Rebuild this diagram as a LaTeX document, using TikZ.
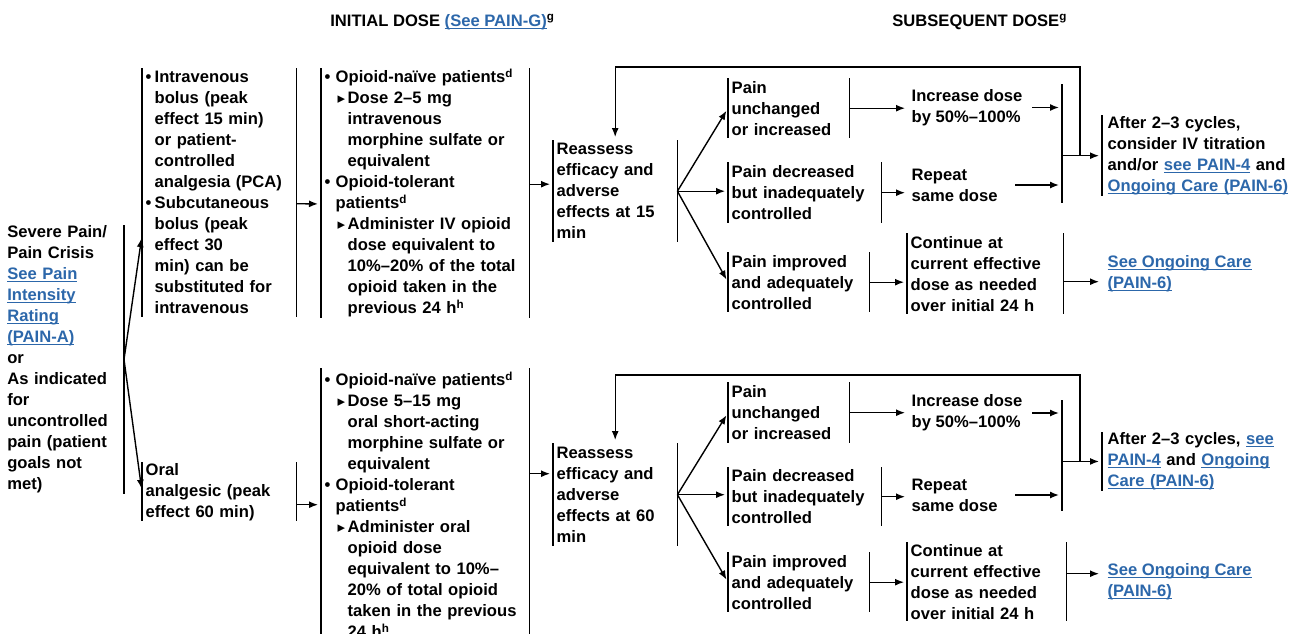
\documentclass[tikz,border=0pt]{standalone}
\usepackage{fontspec}
\setmainfont{Liberation Sans}
\newfontfamily\symfont{DejaVu Sans}
\usetikzlibrary{arrows.meta,calc}

\definecolor{lnkblue}{RGB}{44,103,170}
\newsavebox{\lnkbox}
\newcommand{\lnk}[1]{\leavevmode\sbox{\lnkbox}{\color{lnkblue}#1}%
  {\color{lnkblue}\rlap{\rule[-1.3pt]{\wd\lnkbox}{0.55pt}}}\usebox{\lnkbox}}
\newcommand{\bulit}[1]{\makebox[#1][l]{\textbullet}}
\newcommand{\subtri}{\hspace*{6.5pt}\makebox[5pt][l]{\symfont\fontsize{7.5}{7.5}\selectfont ▸}}
\newcommand{\subind}{\hspace*{11.5pt}}

\begin{document}
\begin{tikzpicture}[x=0.5pt,y=-0.5pt,line width=0.7pt,
  >={Latex[length=4.5pt,width=3.5pt]},
  every node/.style={font=\fontsize{8.3}{10.5}\selectfont\bfseries},
  txt/.style={align=left,inner xsep=1.5pt,inner ysep=0pt,anchor=north west},
  arr/.style={->,shorten >=1.5pt}]

\useasboundingbox (0,0) rectangle (1294,633);

% headings
\node[anchor=west] (hinit) at (323,22) {INITIAL DOSE \lnk{(See PAIN-G)}\textsuperscript{g}};
\node[anchor=west] (hsub) at (885,22) {SUBSEQUENT DOSE\textsuperscript{g}};

% start
\node[txt,anchor=north east,inner xsep=1pt,text width=57pt,minimum height=133pt] (pain) at (124,225)
{Severe Pain/\\ Pain Crisis\\ \lnk{See Pain}\\ \lnk{Intensity}\\ \lnk{Rating}\\ \lnk{(PAIN-A)}\\ or\\
As indicated\\ for\\ uncontrolled\\ pain (patient\\ goals not\\ met)};

% route
\node[txt,text width=73.5pt,minimum height=124pt] (iv) at (142,68)
{\bulit{4.5pt}Intravenous\\ \hspace*{4.5pt}bolus (peak\\ \hspace*{4.5pt}effect 15 min)\\
\hspace*{4.5pt}or patient-\\ \hspace*{4.5pt}controlled\\ \hspace*{4.5pt}analgesia (PCA)\\
\bulit{4.5pt}Subcutaneous\\ \hspace*{4.5pt}bolus (peak\\ \hspace*{4.5pt}effect 30\\
\hspace*{4.5pt}min) can be\\ \hspace*{4.5pt}substituted for\\ \hspace*{4.5pt}intravenous};
\node[txt,text width=73.5pt,minimum height=29pt] (oral) at (142,462)
{Oral\\ analgesic (peak\\ effect 60 min)};

% initial dose
\node[txt,text width=100.5pt,minimum height=124pt] (ivd) at (321,68)
{\bulit{5.5pt}Opioid-naïve patients\textsuperscript{d}\\
\subtri Dose 2–5 mg\\
\subind intravenous\\
\subind morphine sulfate or\\
\subind equivalent\\
\bulit{5.5pt}Opioid-tolerant\\
\hspace*{5.5pt}patients\textsuperscript{d}\\
\subtri Administer IV opioid\\
\subind dose equivalent to\\
\subind 10\%–20\% of the total\\
\subind opioid taken in the\\
\subind previous 24 h\textsuperscript{h}};
\node[txt,text width=100.5pt,minimum height=136pt] (orald) at (321,368)
{\bulit{5.5pt}Opioid-naïve patients\textsuperscript{d}\\
\subtri Dose 5–15 mg\\
\subind oral short-acting\\
\subind morphine sulfate or\\
\subind equivalent\\
\bulit{5.5pt}Opioid-tolerant\\
\hspace*{5.5pt}patients\textsuperscript{d}\\
\subtri Administer oral\\
\subind opioid dose\\
\subind equivalent to 10\%–\\
\subind 20\% of total opioid\\
\subind taken in the previous\\
\subind 24 h\textsuperscript{h}};

% reassess
\node[txt,text width=58.5pt,minimum height=50.5pt] (re1) at (553,140)
{Reassess\\ efficacy and\\ adverse\\ effects at 15\\ min};
\node[txt,text width=58.5pt,minimum height=51pt] (re2) at (553,443)
{Reassess\\ efficacy and\\ adverse\\ effects at 60\\ min};

% response
\node[txt,text width=57pt,minimum height=29.5pt] (up1) at (728,78) {Pain\\ unchanged\\ or increased};
\node[txt,text width=73pt,minimum height=30pt] (mid1) at (728,162) {Pain decreased\\ but inadequately\\ controlled};
\node[txt,text width=67pt,minimum height=29.5pt] (lo1) at (728,252) {Pain improved\\ and adequately\\ controlled};
\node[txt,text width=57pt,minimum height=30pt] (up2) at (728,382) {Pain\\ unchanged\\ or increased};
\node[txt,text width=73pt,minimum height=29pt] (mid2) at (728,467) {Pain decreased\\ but inadequately\\ controlled};
\node[txt,text width=67pt,minimum height=29.5pt] (lo2) at (728,552) {Pain improved\\ and adequately\\ controlled};

% subsequent dose
\node[txt,anchor=west] (inc1) at (908,107.5) {Increase dose\\ by 50\%–100\%};
\node[txt,anchor=west] (rep1) at (908,185) {Repeat\\ same dose};
\node[txt,text width=74.5pt,minimum height=40pt] (cont1) at (907,233)
{Continue at\\ current effective\\ dose as needed\\ over initial 24 h};
\node[txt,anchor=west] (inc2) at (908,413) {Increase dose\\ by 50\%–100\%};
\node[txt,anchor=west] (rep2) at (908,495) {Repeat\\ same dose};
\node[txt,text width=76pt,minimum height=39pt] (cont2) at (907,542)
{Continue at\\ current effective\\ dose as needed\\ over initial 24 h};

\node[inner sep=0pt,minimum width=0pt,minimum height=59pt,anchor=north] (j1) at (1062,84) {};
\node[inner sep=0pt,minimum width=0pt,minimum height=55pt,anchor=north] (j2) at (1062,400) {};
\coordinate (lp1) at (1080,67);
\coordinate (lp2) at (1080,375);

\node[txt,text width=96pt,minimum height=40pt,inner xsep=2.5pt] (aft1) at (1102,115)
{After 2–3 cycles,\\ consider IV titration\\ and/or \lnk{see PAIN-4} and\\ \lnk{Ongoing Care (PAIN-6)}};
\node[txt,text width=96pt,minimum height=28pt,inner xsep=2.5pt] (aft2) at (1102,432)
{After 2–3 cycles, \lnk{see}\\ \lnk{PAIN-4} and \lnk{Ongoing}\\ \lnk{Care (PAIN-6)}};
\node[txt,anchor=west,inner xsep=2.5pt] (see1) at (1102,273.5) {\lnk{See Ongoing Care}\\ \lnk{(PAIN-6)}};
\node[txt,anchor=west,inner xsep=2.5pt] (see2) at (1102,582) {\lnk{See Ongoing Care}\\ \lnk{(PAIN-6)}};

% bars
\foreach \n in {iv,oral,ivd,orald,re1,re2,up1,mid1,lo1,up2,mid2,lo2,cont1,cont2}
{
\draw (\n.north west) -- (\n.south west) (\n.north east) -- (\n.south east);
}
\draw (pain.north east) -- (pain.south east);
\draw (j1.north) -- (j1.south) (j2.north) -- (j2.south);
\draw (aft1.north west) -- (aft1.south west) (aft2.north west) -- (aft2.south west);

% arrows
\draw[arr] (pain.east) -- ($(iv.south west)!0.33!(iv.north west)$);
\draw[arr] (pain.east) -- (oral.west);
\draw[arr] ([yshift=-5.5pt]iv.east) -- ([yshift=-5.5pt]ivd.west);
\draw[arr] (oral.east |- orald.west) -- (orald.west);
\draw[arr] ([yshift=3.5pt]ivd.east |- re1.west) -- ([yshift=3.5pt]re1.west);
\draw[arr] ([yshift=10.5pt]orald.east |- re2.west) -- ([yshift=10.5pt]re2.west);

\draw[arr] (re1.east) -- (up1.west);
\draw[arr] (re1.east) -- (re1.east -| mid1.west);
\draw[arr] (re1.east) -- (lo1.west);
\draw[arr] (re2.east) -- (up2.west);
\draw[arr] (re2.east) -- (re2.east -| mid2.west);
\draw[arr] (re2.east) -- (lo2.west);

\draw[arr] (up1.east) -- (up1.east -| inc1.west);
\draw[arr] (mid1.east) -- (mid1.east -| rep1.west);
\draw[arr] (lo1.east) -- (lo1.east -| cont1.west);
\draw[arr] (up2.east) -- (up2.east -| inc2.west);
\draw[arr] (mid2.east) -- (mid2.east -| rep2.west);
\draw[arr] (lo2.east) -- (lo2.east -| cont2.west);

\draw[arr] ([xshift=3pt]inc1.east) -- (inc1.east -| j1.north);
\draw[arr] ([xshift=7pt]rep1.east) -- (rep1.east -| j1.north);
\draw[arr] ([xshift=3pt]inc2.east) -- (inc2.east -| j2.north);
\draw[arr] ([xshift=7pt]rep2.east) -- (rep2.east -| j2.north);
\draw[arr] (j1 |- aft1.west) -- (aft1.west);
\draw[arr] (j2 |- aft2.west) -- (aft2.west);
\draw[arr] (lp1 |- aft1.west) -- (lp1) -| (re1.north);
\draw[arr] (lp2 |- aft2.west) -- (lp2) -| (re2.north);

\draw[arr] ([yshift=-4pt]cont1.east) -- ([yshift=-4pt]cont1.east -| see1.west);
\draw[arr] ([yshift=4pt]cont2.east) -- ([yshift=4pt]cont2.east -| see2.west);
\end{tikzpicture}
\end{document}
